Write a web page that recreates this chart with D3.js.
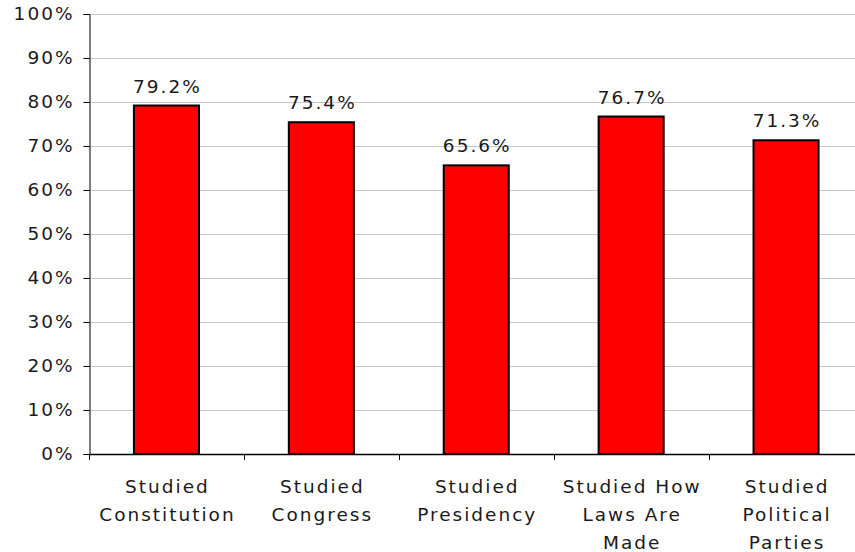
<!DOCTYPE html>
<html>
<head>
<meta charset="utf-8">
<script src="https://cdn.jsdelivr.net/npm/d3@7"></script>
<style>
  body { margin: 0; background: #fff; }
  text { font-family: "DejaVu Sans", Verdana, sans-serif; fill: #1a1a1a; }
</style>
</head>
<body>
<div id="chart"></div>
<script>
// categories (line-broken the way the picture wraps them)
var categories = [
  ["Studied", "Constitution"],
  ["Studied", "Congress"],
  ["Studied", "Presidency"],
  ["Studied How", "Laws Are", "Made"],
  ["Studied", "Political", "Parties"]
];
var values = [79.2, 75.4, 65.6, 76.7, 71.3];
var yTicks = [0, 10, 20, 30, 40, 50, 60, 70, 80, 90, 100];

var w = 855;
var h = 552;
var plotLeft = 89, plotTop = 14, plotBottom = 454;
var bandW = 154.9;
var fs = 18.5, ls = 2;

var svg = d3.select("#chart")
            .append("svg")
            .attr("width", w)
            .attr("height", h);

var x = d3.scaleBand()
          .domain(d3.range(categories.length))
          .range([plotLeft, plotLeft + bandW * categories.length])
          .paddingInner(0.58)
          .paddingOuter(0.29);

var yScale = d3.scaleLinear()
               .domain([0, 100])
               .range([plotBottom, plotTop]);

// gridlines
svg.append("g")
   .selectAll("line")
   .data(yTicks.filter(function(d) { return d > 0; }))
   .enter()
   .append("line")
   .attr("x1", plotLeft)
   .attr("x2", w)
   .attr("y1", function(d) { return Math.round(yScale(d)) + 0.5; })
   .attr("y2", function(d) { return Math.round(yScale(d)) + 0.5; })
   .attr("stroke", "#c8c8c8")
   .attr("stroke-width", 1);

// bars
svg.append("g")
   .selectAll("rect")
   .data(values)
   .enter()
   .append("rect")
   .attr("x", function(d, i) { return x(i); })
   .attr("y", function(d) { return yScale(d); })
   .attr("width", x.bandwidth())
   .attr("height", function(d) { return plotBottom - yScale(d); })
   .attr("fill", "#ff0000")
   .attr("stroke", "#000")
   .attr("stroke-width", 2);

// value labels
svg.append("g")
   .selectAll("text")
   .data(values)
   .enter()
   .append("text")
   .attr("x", function(d, i) { return x(i) + x.bandwidth() / 2 + ls / 2; })
   .attr("y", function(d) { return yScale(d) - 13; })
   .attr("text-anchor", "middle")
   .style("font-size", fs + "px")
   .style("letter-spacing", ls + "px")
   .text(function(d) { return d.toFixed(1) + "%"; });

// y axis
var yAxis = d3.axisLeft(yScale)
              .tickValues(yTicks)
              .tickSize(6)
              .tickPadding(11)
              .tickFormat(function(d) { return d + "%"; });

var gy = svg.append("g")
   .attr("transform", "translate(" + (plotLeft + 0.5) + ",0)")
   .call(yAxis);
gy.select(".domain").attr("stroke", "#000");
gy.selectAll(".tick line").attr("stroke", "#000");
gy.selectAll(".tick text")
  .attr("dx", ls)
  .style("font-size", fs + "px")
  .style("letter-spacing", ls + "px")
  .style("font-family", "DejaVu Sans, Verdana, sans-serif")
  .attr("fill", "#1a1a1a");

// x axis line and tick marks at band edges
var edges = d3.range(categories.length + 1).map(function(i) { return plotLeft + i * bandW; });
svg.append("line")
   .attr("x1", plotLeft)
   .attr("x2", w)
   .attr("y1", plotBottom + 0.5)
   .attr("y2", plotBottom + 0.5)
   .attr("stroke", "#000")
   .attr("stroke-width", 1.5);
svg.append("g")
   .selectAll("line")
   .data(edges)
   .enter()
   .append("line")
   .attr("x1", function(d) { return Math.round(d) + 0.5; })
   .attr("x2", function(d) { return Math.round(d) + 0.5; })
   .attr("y1", plotBottom)
   .attr("y2", plotBottom + 6)
   .attr("stroke", "#000");

// category labels
var labels = svg.append("g")
   .selectAll("text")
   .data(categories)
   .enter()
   .append("text")
   .attr("text-anchor", "middle")
   .style("font-size", fs + "px")
   .style("letter-spacing", ls + "px");

labels.selectAll("tspan")
   .data(function(d, i) { return d.map(function(t) { return { t: t, i: i }; }); })
   .enter()
   .append("tspan")
   .attr("x", function(d) { return x(d.i) + x.bandwidth() / 2 + ls / 2; })
   .attr("y", function(d, j) { return 492.5 + j * 28.3; })
   .text(function(d) { return d.t; });
</script>
</body>
</html>
